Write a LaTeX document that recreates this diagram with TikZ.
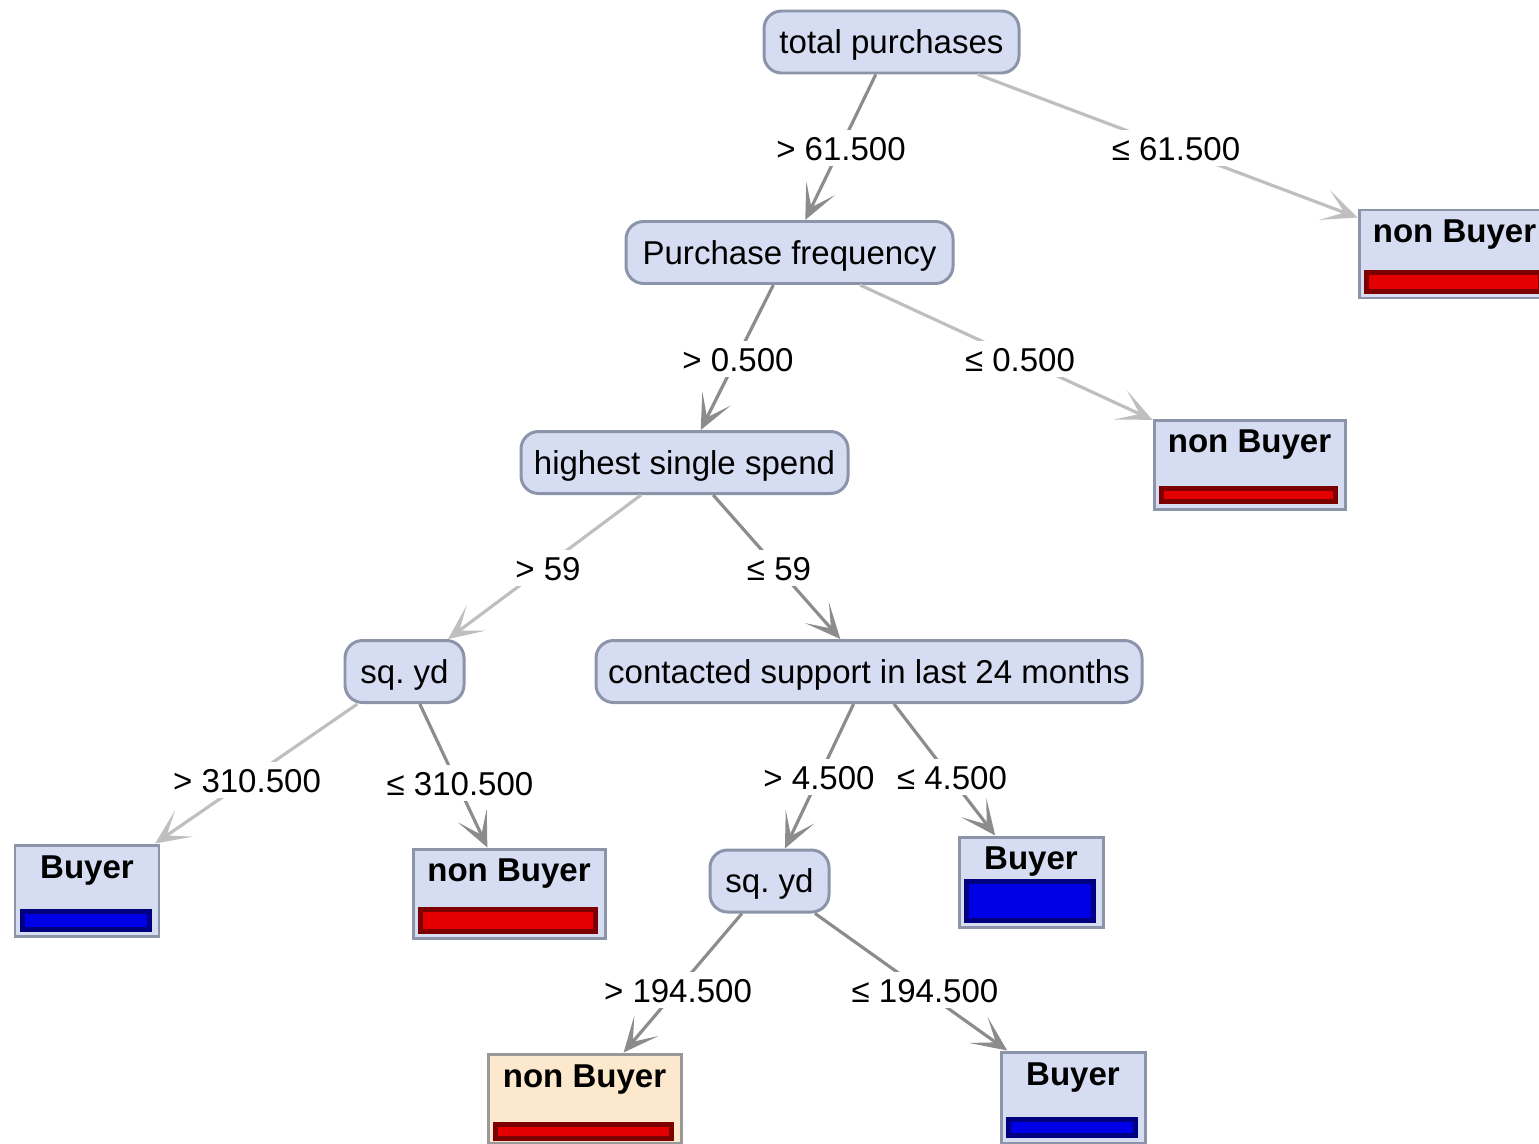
\documentclass[tikz,border=0pt]{standalone}
\usepackage{fontspec}
\setmainfont{Liberation Sans}
\usepackage{tikz}
\usetikzlibrary{arrows.meta,positioning,calc}
\usepackage{xcolor}
\definecolor{nodefill}{RGB}{214, 221, 242}
\definecolor{nodeline}{RGB}{140, 148, 170}
\definecolor{leafbeige}{RGB}{252, 233, 205}
\definecolor{buyerblue}{RGB}{0, 0, 232}
\definecolor{nonred}{RGB}{228, 0, 0}
\newcommand{\treefont}{\fontsize{9.4}{11}\selectfont}
\newcommand{\classbar}[5]{%
  \draw[line width=1.2pt, draw=#2!55!black, fill=#2]
    ($(#1.south west)+(0.09,#3)$) rectangle ($(#1.south east)+(-0.11,#4)$);}

\begin{document}
\begin{tikzpicture}[
    split/.style={rectangle, draw=nodeline, fill=nodefill, rounded corners=5pt, line width=0.85pt, minimum height=0.62cm, inner sep=0pt, text height=0.72em, text depth=0.05em, font=\treefont},
    leaf/.style={rectangle, draw=nodeline, fill=nodefill, line width=0.85pt, minimum height=0.89cm, inner sep=0pt},
    leaftxt/.style={anchor=base, inner sep=0pt, font=\treefont\bfseries},
    cond/.style={fill=white, inner sep=1.5pt, text height=0.72em, text depth=0pt, font=\treefont},
    edge/.style={draw=black!25, line width=0.9pt, -{Stealth[length=10pt, width=9pt, inset=6pt]}},
    main/.style={edge, draw=black!45},
]
    \useasboundingbox (0,0) rectangle (15.39,-11.43);

    % Splits
    \node[split, minimum width=2.55cm] (total) at (8.915, -0.42) {total purchases};
    \node[split, minimum width=3.27cm] (freq) at (7.895, -2.525) {Purchase frequency};
    \node[split, minimum width=3.27cm] (spend) at (6.845, -4.625) {highest single spend};
    \node[split, minimum width=1.19cm] (sqyda) at (4.045, -6.715) {sq.\ yd};
    \node[split, minimum width=5.46cm] (support) at (8.69, -6.715) {contacted support in last 24 months};
    \node[split, minimum width=1.19cm] (sqydb) at (7.695, -8.81) {sq.\ yd};

    % Leaves
    \node[leaf, minimum width=1.91cm, minimum height=0.88cm] (nonA) at (14.545, -2.54) {};
    \node[leaf, minimum width=1.91cm] (nonB) at (12.495, -4.645) {};
    \node[leaf, minimum width=1.44cm, minimum height=0.91cm] (buyA) at (0.87, -8.905) {};
    \node[leaf, minimum width=1.92cm] (nonC) at (5.09, -8.935) {};
    \node[leaf, minimum width=1.44cm, minimum height=0.90cm] (buyB) at (10.31, -8.82) {};
    \node[leaf, minimum width=1.93cm, fill=leafbeige, draw=black!40] (nonD) at (5.845, -10.985) {};
    \node[leaf, minimum width=1.44cm, minimum height=0.91cm] (buyC) at (10.73, -10.975) {};

    \node[leaftxt] (nonAt) at ($(nonA.north)+(0,-0.34)$) {non Buyer};
    \node[leaftxt] (nonBt) at ($(nonB.north)+(0,-0.34)$) {non Buyer};
    \node[leaftxt] (buyAt) at ($(buyA.north)+(0,-0.35)$) {Buyer};
    \node[leaftxt] (nonCt) at ($(nonC.north)+(0,-0.34)$) {non Buyer};
    \node[leaftxt] (buyBt) at ($(buyB.north)+(0,-0.34)$) {Buyer};
    \node[leaftxt] (nonDt) at ($(nonD.north)+(0,-0.35)$) {non Buyer};
    \node[leaftxt] (buyCt) at ($(buyC.north)+(0,-0.35)$) {Buyer};

    \classbar{nonA}{nonred}{0.08}{0.27}{}
    \classbar{nonB}{nonred}{0.09}{0.22}{}
    \classbar{buyA}{buyerblue}{0.08}{0.26}{}
    \classbar{nonC}{nonred}{0.08}{0.30}{}
    \classbar{buyB}{buyerblue}{0.08}{0.47}{}
    \classbar{nonD}{nonred}{0.06}{0.20}{}
    \classbar{buyC}{buyerblue}{0.09}{0.25}{}

    % Arrows
    \draw[main] (total) -- (freq);
    \draw[edge] (total) -- (nonA);
    \draw[main] (freq) -- (spend);
    \draw[edge] (freq) -- (nonB);
    \draw[edge] (spend) -- (sqyda);
    \draw[main] (spend) -- (support);
    \draw[edge] (sqyda) -- (buyA);
    \draw[main] (sqyda) -- (nonC);
    \draw[main] (support) -- (sqydb);
    \draw[main] (support) -- (buyB);
    \draw[main] (sqydb) -- (nonD);
    \draw[main] (sqydb) -- (buyC);

    % Conditions
    \node[cond] (c1) at (8.41, -1.48) {> 61.500};
    \node[cond] (c2) at (11.76, -1.48) {≤ 61.500};
    \node[cond] (c3) at (7.38, -3.59) {> 0.500};
    \node[cond] (c4) at (10.20, -3.59) {≤ 0.500};
    \node[cond] (c5) at (5.48, -5.68) {> 59};
    \node[cond] (c6) at (7.79, -5.68) {≤ 59};
    \node[cond] (c7) at (2.47, -7.80) {> 310.500};
    \node[cond] (c8) at (4.60, -7.83) {≤ 310.500};
    \node[cond] (c9) at (8.19, -7.77) {> 4.500};
    \node[cond] (c10) at (9.52, -7.77) {≤ 4.500};
    \node[cond] (c11) at (6.78, -9.90) {> 194.500};
    \node[cond] (c12) at (9.25, -9.90) {≤ 194.500};
\end{tikzpicture}
\end{document}
